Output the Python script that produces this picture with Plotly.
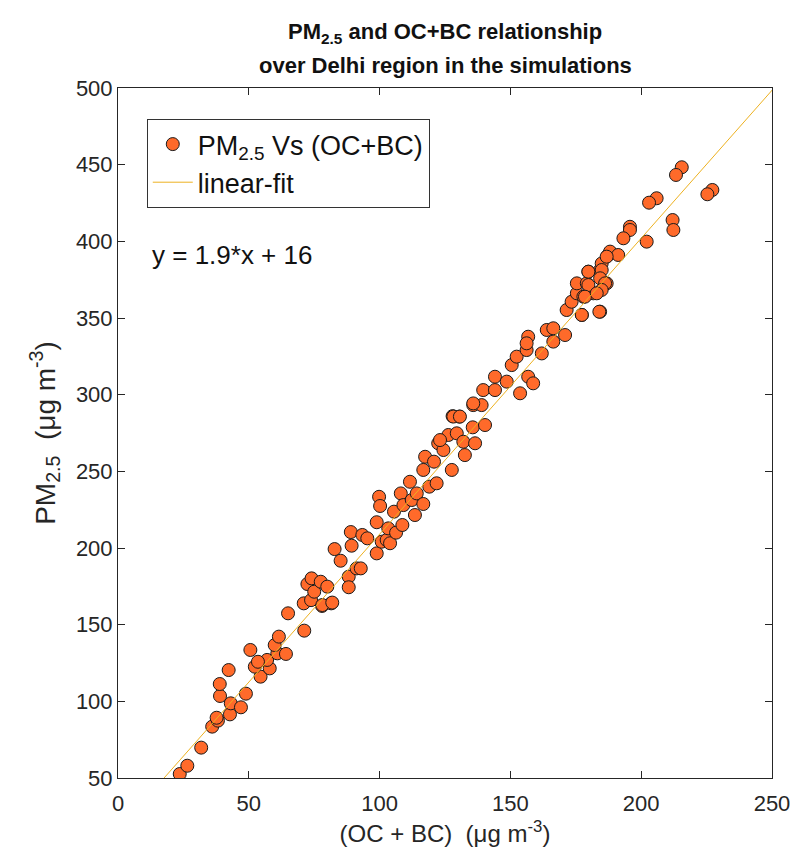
import plotly.graph_objects as go

# OC+BC (x) and PM2.5 (y) values, in µg m^-3
oc_bc = [23.6, 26.5, 31.8, 36.0, 38.2, 37.7, 42.8, 43.1, 47.0, 48.9, 39.0, 38.9, 42.3,
         54.5, 52.3, 58.0, 57.0, 50.6, 53.5, 60.9, 64.2, 59.9, 61.5, 71.2, 65.0, 71.0,
         78.0, 81.5, 73.8, 72.4, 74.0, 75.0, 77.5, 80.0, 78.1, 81.9, 82.8, 85.1, 88.2,
         88.2, 91.2, 92.8, 89.3, 89.0, 93.4, 95.3, 98.9, 98.9, 99.8, 100.2, 100.8, 102.7,
         104.0, 103.3, 106.3, 108.7, 108.1, 105.5, 109.1, 111.6, 112.3, 113.5, 114.2,
         116.7, 117.4, 116.7, 119.0, 121.8, 120.8, 122.4, 124.4, 127.6, 126.3, 127.9,
         130.5, 129.5, 132.0, 132.6, 136.5, 135.6, 135.8, 139.0, 140.3, 123.1, 128.2,
         130.7, 135.8, 139.6, 144.1, 144.1, 148.6, 150.5, 152.4, 153.7, 156.8, 158.7,
         156.2, 156.8, 156.2, 162.0, 163.9, 166.4, 166.4, 170.9, 171.5, 173.4, 175.4,
         177.3, 175.4, 179.2, 179.8, 184.3, 184.9, 186.8, 184.3, 187.4, 181.7, 177.9,
         215.5, 213.3, 205.9, 203.0, 227.2, 225.3, 212.0, 212.3, 195.7, 195.7, 193.2,
         202.1, 188.1, 191.2, 186.8, 179.8, 184.9, 184.3, 179.8, 186.2, 184.9, 178.5,
         183.0, 177.3, 184.0]
pm25 = [52.6, 58.0, 69.8, 83.5, 87.4, 89.3, 91.5, 98.7, 96.1, 105.0, 103.5, 111.3, 120.4,
        116.1, 122.6, 121.5, 127.0, 133.5, 125.8, 131.3, 130.9, 136.7, 142.2, 146.1, 157.4,
        163.9, 162.2, 163.9, 166.0, 176.5, 180.2, 171.5, 178.0, 174.8, 162.8, 164.4, 199.3,
        191.7, 181.3, 174.4, 186.7, 186.7, 201.5, 210.4, 208.5, 206.3, 196.5, 216.8, 233.4,
        227.4, 204.1, 205.2, 203.1, 212.8, 210.0, 215.0, 235.6, 223.7, 228.0, 243.2, 231.3,
        221.5, 235.6, 228.7, 259.5, 250.9, 240.0, 242.2, 256.3, 268.3, 263.9, 250.9, 273.7,
        286.0, 285.7, 274.8, 269.3, 260.6, 268.3, 278.7, 293.2, 293.2, 280.2, 270.4, 285.7,
        285.7, 294.3, 303.0, 311.7, 303.0, 308.5, 319.3, 324.8, 300.9, 311.7, 307.4, 329.1,
        337.8, 333.5, 326.9, 342.2, 343.3, 334.6, 338.9, 355.2, 360.6, 366.1, 352.0, 372.6,
        372.6, 380.2, 381.3, 385.6, 372.6, 354.1, 391.1, 366.1, 363.9,
        448.3, 443.3, 428.1, 425.2, 433.5, 430.7, 413.9, 407.4, 409.5, 407.4, 402.0,
        399.8, 393.3, 391.1, 390.0, 380.2, 381.3, 375.9, 371.5, 372.6, 368.3, 363.9,
        366.1, 352.0, 354.1]

# linear fit (unrounded coefficients as drawn; label shows the rounded form)
slope = 1.93
intercept = 16
fit_label = "y = 1.9*x + 16"
fit_x = [(50 - intercept) / slope, (500 - intercept) / slope]
fit_y = [slope * v + intercept for v in fit_x]

x_ticks = [0, 50, 100, 150, 200, 250]
y_ticks = [50, 100, 150, 200, 250, 300, 350, 400, 450, 500]

axis_col = "#262626"
font_fam = "Liberation Sans, Arial, sans-serif"

fig = go.Figure()
fig.add_trace(go.Scatter(
    x=oc_bc, y=pm25, mode="markers",
    name="PM<sub>2.5</sub> Vs (OC+BC)",
    marker=dict(size=13, color="#FF6A2A", line=dict(color="#1a1a1a", width=1)),
))
fig.add_trace(go.Scatter(
    x=fit_x, y=fit_y, mode="lines", name="linear-fit",
    line=dict(color="#EDB120", width=1),
))

fig.add_annotation(x=12.2, y=391, xref="x", yref="y", xanchor="left", yanchor="middle",
                   text=fit_label, showarrow=False,
                   font=dict(size=26, color="#111111", family=font_fam))

# two-line bold title
fig.add_annotation(x=0.5, y=1.08, xref="paper", yref="paper", xanchor="center", yanchor="middle",
                   text="<b>PM<sub>2.5</sub> and OC+BC relationship</b>", showarrow=False,
                   font=dict(size=22, color="#111111", family=font_fam))
fig.add_annotation(x=0.5, y=1.033, xref="paper", yref="paper", xanchor="center", yanchor="middle",
                   text="<b>over Delhi region in the simulations</b>", showarrow=False,
                   font=dict(size=22, color="#111111", family=font_fam))

fig.update_layout(
    width=801, height=852,
    margin=dict(l=110, r=37, t=80, b=82),
    paper_bgcolor="white", plot_bgcolor="white",
    font=dict(family=font_fam, color=axis_col),
    showlegend=True,
    legend=dict(
        x=0.044, y=0.955, xanchor="left", yanchor="top",
        bordercolor="#333333", borderwidth=1, bgcolor="white",
        font=dict(size=27, color="#111111", family=font_fam),
        itemwidth=40, tracegroupgap=0,
    ),
    xaxis=dict(
        range=[0, 250], tickvals=x_ticks, ticks="inside", ticklen=7, tickcolor=axis_col,
        showline=True, linecolor=axis_col, linewidth=1, mirror="ticks", showgrid=False,
        zeroline=False, tickfont=dict(size=22, color=axis_col), ticklabelstandoff=6,
        title=dict(text="(OC + BC)  (μg m<sup>-3</sup>)", font=dict(size=24, color=axis_col), standoff=9),
    ),
    yaxis=dict(
        range=[50, 500], tickvals=y_ticks, ticks="inside", ticklen=7, tickcolor=axis_col,
        showline=True, linecolor=axis_col, linewidth=1, mirror="ticks", showgrid=False,
        zeroline=False, tickfont=dict(size=22, color=axis_col),
        title=dict(text="PM<sub>2.5</sub>  (μg m<sup>-3</sup>)", font=dict(size=28, color=axis_col), standoff=12),
    ),
)

fig.write_html("out.html")
